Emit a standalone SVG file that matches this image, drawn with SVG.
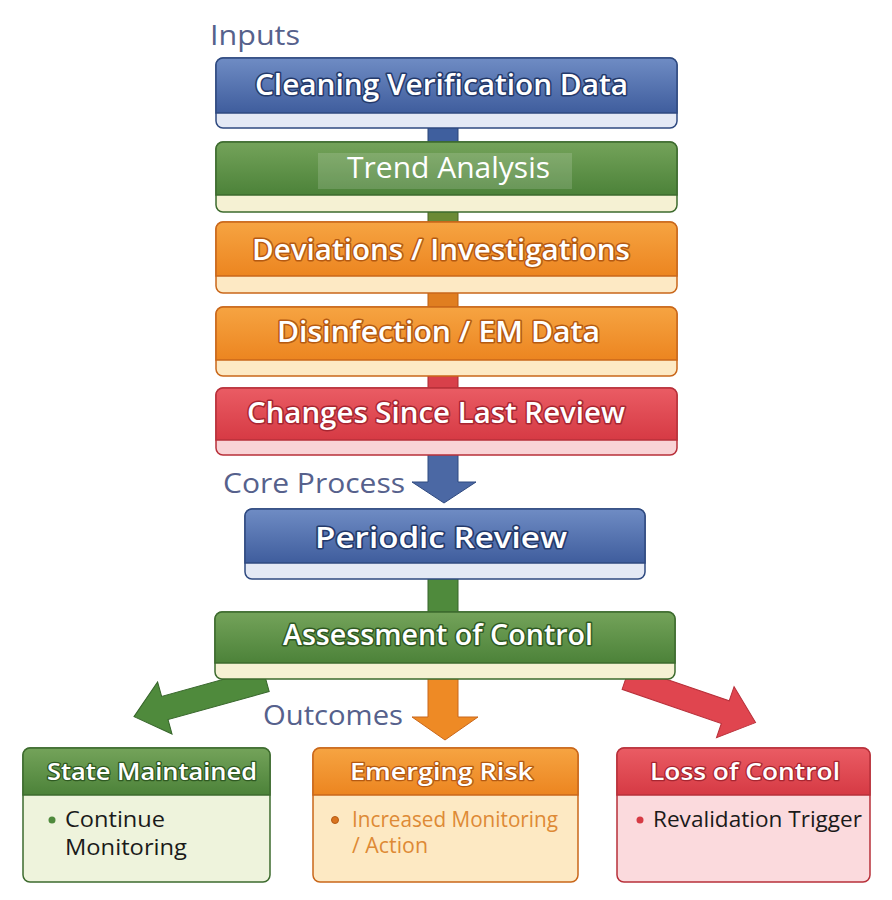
<svg xmlns="http://www.w3.org/2000/svg" width="892" height="900" viewBox="0 0 892 900">
<defs>
<linearGradient id="gBlue" x1="0" y1="0" x2="0" y2="1"><stop offset="0" stop-color="#6f8cc4"/><stop offset="1" stop-color="#3f5d9d"/></linearGradient>
<linearGradient id="gGreen" x1="0" y1="0" x2="0" y2="1"><stop offset="0" stop-color="#74a35a"/><stop offset="1" stop-color="#4c8239"/></linearGradient>
<linearGradient id="gOrange" x1="0" y1="0" x2="0" y2="1"><stop offset="0" stop-color="#f6a442"/><stop offset="1" stop-color="#ec8520"/></linearGradient>
<linearGradient id="gRed" x1="0" y1="0" x2="0" y2="1"><stop offset="0" stop-color="#ea5c64"/><stop offset="1" stop-color="#d63a44"/></linearGradient>
<path id="arr" d="M0,-12 H105 V-27 L137,0 L105,27 V12 H0 Z"/>
</defs>
<style>
text{font-family:"Open Sans","Noto Sans","Liberation Sans",sans-serif}
.sec{fill:#56618c;font-size:28px}
.ttl{fill:#fff;font-size:28px;font-weight:600;paint-order:stroke;stroke-width:3px;stroke-linejoin:round}
.tb{stroke:#243a6b}.tg{stroke:#2f5a22}.to{stroke:#b55a12}.tr{stroke:#a82631}
.otl{fill:#fff;font-size:23px;font-weight:600;paint-order:stroke;stroke-width:2.5px;stroke-linejoin:round}
.body{font-size:21px}
</style>
<rect width="892" height="900" fill="#fff"/>
<text class="sec" x="210" y="45" textLength="90" lengthAdjust="spacingAndGlyphs">Inputs</text>
<text class="sec" x="223" y="493" textLength="182" lengthAdjust="spacingAndGlyphs">Core Process</text>
<text class="sec" x="263" y="725" textLength="140" lengthAdjust="spacingAndGlyphs">Outcomes</text>
<g id="connectors">
<rect x="428" y="126" width="30" height="18" fill="#3f5f9e" stroke="#2a4477" stroke-width="1"/>
<rect x="428" y="210" width="30" height="14" fill="#6b8a35" stroke="#4b6525" stroke-width="1"/>
<rect x="428" y="291" width="30" height="18" fill="#e07e20" stroke="#b95f12" stroke-width="1"/>
<rect x="428" y="374" width="30" height="16" fill="#d8404a" stroke="#a82631" stroke-width="1"/>
<path d="M428,453 H458 V482 H476 L444,503 L412,482 H428 Z" fill="#4b68a4" stroke="#2f4a80" stroke-width="1"/>
<rect x="428" y="577" width="30" height="37" fill="#4f8a3c" stroke="#36652a" stroke-width="1"/>
<path d="M428,677 H458 V717 H478 L445,740 L412,717 H428 Z" fill="#ee8a25" stroke="#c9671a" stroke-width="1"/>
<use href="#arr" transform="translate(266,680) rotate(164.5)" fill="#4f8a3c" stroke="#36652a" stroke-width="1"/>
<use href="#arr" transform="translate(626,678) rotate(19)" fill="#e0454f" stroke="#b8303a" stroke-width="1"/>
</g>
<g id="n1">
<rect x="216" y="58" width="461" height="70" rx="7" fill="#e4e9f5" stroke="#2f4a80" stroke-width="1.5"/>
<path d="M223,58 H670 A7,7 0 0 1 677,65 V113 H216 V65 A7,7 0 0 1 223,58 Z" fill="url(#gBlue)" stroke="#2f4a80" stroke-width="1.5"/>
<text class="ttl tb" x="255" y="95" textLength="373" lengthAdjust="spacingAndGlyphs">Cleaning Verification Data</text>
</g>
<g id="n2">
<rect x="216" y="142" width="461" height="70" rx="7" fill="#f5f1d3" stroke="#3d6b2e" stroke-width="1.5"/>
<path d="M223,142 H670 A7,7 0 0 1 677,149 V195 H216 V149 A7,7 0 0 1 223,142 Z" fill="url(#gGreen)" stroke="#3d6b2e" stroke-width="1.5"/>
<rect x="318" y="153" width="254" height="36" fill="#fff" fill-opacity="0.15"/>
<text x="347" y="178" fill="#fff" font-size="30" textLength="203" lengthAdjust="spacingAndGlyphs">Trend Analysis</text>
</g>
<g id="n3">
<rect x="216" y="222" width="461" height="71" rx="7" fill="#fde9c4" stroke="#c9671a" stroke-width="1.5"/>
<path d="M223,222 H670 A7,7 0 0 1 677,229 V276 H216 V229 A7,7 0 0 1 223,222 Z" fill="url(#gOrange)" stroke="#c9671a" stroke-width="1.5"/>
<text class="ttl to" x="252" y="260" textLength="378" lengthAdjust="spacingAndGlyphs">Deviations / Investigations</text>
</g>
<g id="n4">
<rect x="216" y="307" width="461" height="69" rx="7" fill="#fde9c4" stroke="#c9671a" stroke-width="1.5"/>
<path d="M223,307 H670 A7,7 0 0 1 677,314 V360 H216 V314 A7,7 0 0 1 223,307 Z" fill="url(#gOrange)" stroke="#c9671a" stroke-width="1.5"/>
<text class="ttl to" x="277" y="342" textLength="323" lengthAdjust="spacingAndGlyphs">Disinfection / EM Data</text>
</g>
<g id="n5">
<rect x="216" y="388" width="461" height="67" rx="7" fill="#f9d3d6" stroke="#b8303a" stroke-width="1.5"/>
<path d="M223,388 H670 A7,7 0 0 1 677,395 V440 H216 V395 A7,7 0 0 1 223,388 Z" fill="url(#gRed)" stroke="#b8303a" stroke-width="1.5"/>
<text class="ttl tr" x="247" y="423" textLength="378" lengthAdjust="spacingAndGlyphs">Changes Since Last Review</text>
</g>
<g id="n6">
<rect x="245" y="509" width="400" height="70" rx="7" fill="#e4e9f5" stroke="#2f4a80" stroke-width="1.5"/>
<path d="M252,509 H638 A7,7 0 0 1 645,516 V563 H245 V516 A7,7 0 0 1 252,509 Z" fill="url(#gBlue)" stroke="#2f4a80" stroke-width="1.5"/>
<text class="ttl tb" x="315" y="548" textLength="252" lengthAdjust="spacingAndGlyphs">Periodic Review</text>
</g>
<g id="n7">
<rect x="215" y="612" width="460" height="67" rx="7" fill="#f5f1d3" stroke="#3d6b2e" stroke-width="1.5"/>
<path d="M222,612 H668 A7,7 0 0 1 675,619 V663 H215 V619 A7,7 0 0 1 222,612 Z" fill="url(#gGreen)" stroke="#3d6b2e" stroke-width="1.5"/>
<text class="ttl tg" x="283" y="645" textLength="310" lengthAdjust="spacingAndGlyphs">Assessment of Control</text>
</g>
<g id="o1">
<rect x="23" y="748" width="247" height="134" rx="7" fill="#eef3dc" stroke="#3d6b2e" stroke-width="1.5"/>
<path d="M30,748 H263 A7,7 0 0 1 270,755 V795 H23 V755 A7,7 0 0 1 30,748 Z" fill="url(#gGreen)" stroke="#3d6b2e" stroke-width="1.5"/>
<text class="otl tg" x="47" y="780" textLength="210" lengthAdjust="spacingAndGlyphs">State Maintained</text>
<circle cx="52" cy="820" r="3.5" fill="#4f8a3c"/>
<text class="body" x="65" y="827" fill="#1a1a1a" textLength="100" lengthAdjust="spacingAndGlyphs">Continue</text>
<text class="body" x="65" y="855" fill="#1a1a1a" textLength="122" lengthAdjust="spacingAndGlyphs">Monitoring</text>
</g>
<g id="o2">
<rect x="313" y="748" width="265" height="134" rx="7" fill="#fde9c3" stroke="#c9671a" stroke-width="1.5"/>
<path d="M320,748 H571 A7,7 0 0 1 578,755 V795 H313 V755 A7,7 0 0 1 320,748 Z" fill="url(#gOrange)" stroke="#c9671a" stroke-width="1.5"/>
<text class="otl to" x="350" y="780" textLength="183" lengthAdjust="spacingAndGlyphs">Emerging Risk</text>
<circle cx="335" cy="820" r="3.5" fill="#d9741f" stroke="#b55a12" stroke-width="1"/>
<text class="body" x="352" y="827" fill="#de8a35" textLength="206" lengthAdjust="spacingAndGlyphs">Increased Monitoring</text>
<text class="body" x="352" y="853" fill="#de8a35" textLength="76" lengthAdjust="spacingAndGlyphs">/ Action</text>
</g>
<g id="o3">
<rect x="617" y="748" width="253" height="134" rx="7" fill="#fbdadd" stroke="#b8303a" stroke-width="1.5"/>
<path d="M624,748 H863 A7,7 0 0 1 870,755 V795 H617 V755 A7,7 0 0 1 624,748 Z" fill="url(#gRed)" stroke="#b8303a" stroke-width="1.5"/>
<text class="otl tr" x="650" y="780" textLength="190" lengthAdjust="spacingAndGlyphs">Loss of Control</text>
<circle cx="640" cy="820" r="3.5" fill="#d63a44"/>
<text class="body" x="653" y="827" fill="#1a1a1a" textLength="209" lengthAdjust="spacingAndGlyphs">Revalidation Trigger</text>
</g>
</svg>
